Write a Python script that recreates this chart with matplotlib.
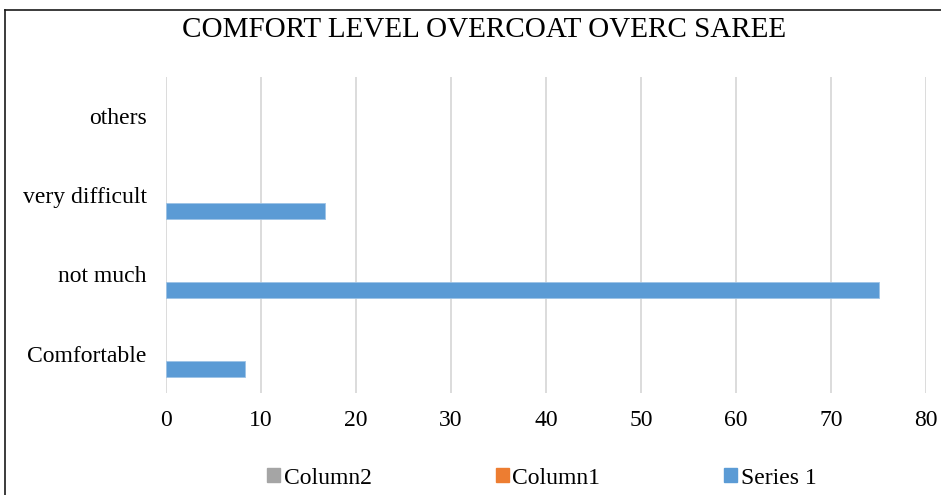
import matplotlib
matplotlib.use("Agg")
import matplotlib.pyplot as plt
from matplotlib.patches import Patch
from matplotlib.lines import Line2D
import numpy as np

categories = ["Comfortable", "not much", "very difficult", "others"]
series1 = [8.3, 75, 16.7, 0]
column1 = [0, 0, 0, 0]
column2 = [0, 0, 0, 0]
xticks = [0, 10, 20, 30, 40, 50, 60, 70, 80]
title = "COMFORT LEVEL OVERCOAT OVERC SAREE"

plt.rcParams['font.family'] = ['Liberation Serif', 'DejaVu Serif']

W, H = 941, 495
fig = plt.figure(figsize=(W / 100, H / 100), dpi=100)
ax = fig.add_axes([166 / W, 1 - 393 / H, (926 - 166) / W, (393 - 77) / H])

y = np.arange(len(categories))
h = 0.2
c_s1, c_c1, c_c2 = "#5B9BD5", "#ED7D31", "#A5A5A5"
ax.barh(y - h, series1, height=h, color=c_s1, edgecolor="#9DC3E6",
        linewidth=[0.6 if v > 0 else 0 for v in series1], zorder=3)
ax.barh(y, column1, height=h, color=c_c1, linewidth=0, zorder=3)
ax.barh(y + h, column2, height=h, color=c_c2, linewidth=0, zorder=3)

ax.set_xlim(0, 80)
ax.set_ylim(-0.5, len(categories) - 0.5)
ax.set_xticks(xticks)
ax.set_xticklabels([str(t) for t in xticks])
ax.set_yticks(y)
ax.set_yticklabels(categories)
ax.tick_params(axis='both', length=0, labelsize=17, colors="#000000")
ax.tick_params(axis='y', pad=14)
ax.tick_params(axis='x', pad=12)
ax.xaxis.grid(True, color="#D9D9D9", linewidth=1.3, zorder=0)
ax.set_axisbelow(True)
for s in ax.spines.values():
    s.set_visible(False)

fig.text(484 / W, 1 - 30 / H, title, ha='center', va='center', fontsize=21)

handles = [Patch(color=c_c2), Patch(color=c_c1), Patch(color=c_s1)]
labels = ["Column2", "Column1", "Series 1"]
fig.legend(handles, labels, ncol=3, loc='center', bbox_to_anchor=(542 / W, 1 - 478 / H),
           frameon=False, fontsize=17, handlelength=0.55, handleheight=0.55,
           handletextpad=0.15, columnspacing=5.25)

# outer chart border
fig.add_artist(Line2D([5 / W, 1.0], [1 - 10 / H, 1 - 10 / H], transform=fig.transFigure, color="#1a1a1a", linewidth=1.2))
fig.add_artist(Line2D([5 / W, 5 / W], [1 - 10 / H, 0.0], transform=fig.transFigure, color="#1a1a1a", linewidth=1.2))

fig.savefig("out.png", dpi=100)
